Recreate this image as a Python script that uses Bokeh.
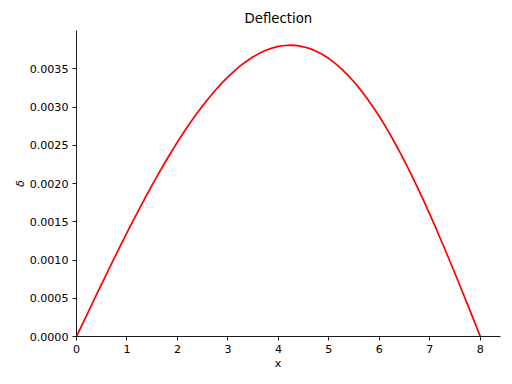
from bokeh.plotting import figure
from bokeh.models import Range1d, FixedTicker, PrintfTickFormatter
from bokeh.embed import file_html
from bokeh.resources import INLINE

# Beam deflection (x in length units, delta in length units)
x_values = [0.0, 0.125, 0.25, 0.375, 0.5, 0.625, 0.75, 0.875, 1.0, 1.125, 1.25,
            1.375, 1.5, 1.625, 1.75, 1.875, 2.0, 2.125, 2.25, 2.375, 2.5, 2.625,
            2.75, 2.875, 3.0, 3.125, 3.25, 3.375, 3.5, 3.625, 3.75, 3.875, 4.0,
            4.125, 4.25, 4.375, 4.5, 4.625, 4.75, 4.875, 5.0, 5.125, 5.25, 5.375,
            5.5, 5.625, 5.75, 5.875, 6.0, 6.125, 6.25, 6.375, 6.5, 6.625, 6.75,
            6.875, 7.0, 7.125, 7.25, 7.375, 7.5, 7.625, 7.75, 7.875, 8.0]
deflection = [0.0, 0.000173, 0.000346, 0.000518, 0.000689, 0.000859, 0.001027,
              0.001193, 0.001357, 0.001518, 0.001676, 0.001830, 0.001981,
              0.002128, 0.002271, 0.002409, 0.002542, 0.002669, 0.002791,
              0.002907, 0.003017, 0.003121, 0.003219, 0.003309, 0.003393,
              0.003470, 0.003540, 0.003602, 0.003656, 0.003702, 0.003741,
              0.003770, 0.003792, 0.003804, 0.003808, 0.003802, 0.003787,
              0.003763, 0.003729, 0.003686, 0.003633, 0.003570, 0.003499,
              0.003417, 0.003327, 0.003227, 0.003118, 0.003001, 0.002875,
              0.002741, 0.002598, 0.002448, 0.002291, 0.002127, 0.001956,
              0.001779, 0.001596, 0.001409, 0.001216, 0.001020, 0.000820,
              0.000618, 0.000413, 0.000207, 0.0]
x_ticks = [0, 1, 2, 3, 4, 5, 6, 7, 8]
y_ticks = [0.0, 0.0005, 0.0010, 0.0015, 0.0020, 0.0025, 0.0030, 0.0035]

title_text = "Deflection"
x_label = "x"
y_label = "δ"

FONT = "DejaVu Sans"
NBSP = "\u00a0"

p = figure(width=512, height=384, output_backend="svg", toolbar_location=None,
           x_range=Range1d(0, 8.4), y_range=Range1d(0, 0.0040),
           min_border_left=76, min_border_right=12, min_border_top=30,
           min_border_bottom=48, title=title_text)

p.title.align = "left"
p.title.offset = 168
p.title.text_font = FONT
p.title.text_font_size = "13.3px"
p.title.text_font_style = "normal"
p.title.text_color = "black"

p.xgrid.visible = False
p.ygrid.visible = False
p.outline_line_color = None
p.background_fill_color = "white"
p.border_fill_color = "white"

p.xaxis.ticker = FixedTicker(ticks=x_ticks)
p.yaxis.ticker = FixedTicker(ticks=y_ticks)
p.yaxis.formatter = PrintfTickFormatter(format="%.4f")

for ax in (p.xaxis, p.yaxis):
    ax.axis_line_color = "black"
    ax.axis_line_width = 0.9
    ax.major_tick_line_color = "black"
    ax.major_tick_line_width = 0.9
    ax.major_tick_out = 4
    ax.major_tick_in = 0
    ax.minor_tick_out = 0
    ax.minor_tick_in = 0
    ax.major_label_standoff = 4
    ax.major_label_text_font = FONT
    ax.major_label_text_font_size = "11.1px"
    ax.major_label_text_color = "black"
    ax.axis_label_text_font = FONT
    ax.axis_label_text_font_size = "11.1px"
    ax.axis_label_text_color = "black"

# the matplotlib label is centred on the whole axes box, ~10px left of the frame centre
p.xaxis.axis_label = x_label + NBSP * 6
p.xaxis.axis_label_text_font_style = "normal"
p.xaxis.axis_label_standoff = 1
p.yaxis.axis_label = y_label
p.yaxis.axis_label_text_font_style = "italic"
p.yaxis.axis_label_standoff = 0

p.line(x_values, deflection, line_color="red", line_width=1.7)

open("out.html", "w").write(file_html(p, INLINE))
